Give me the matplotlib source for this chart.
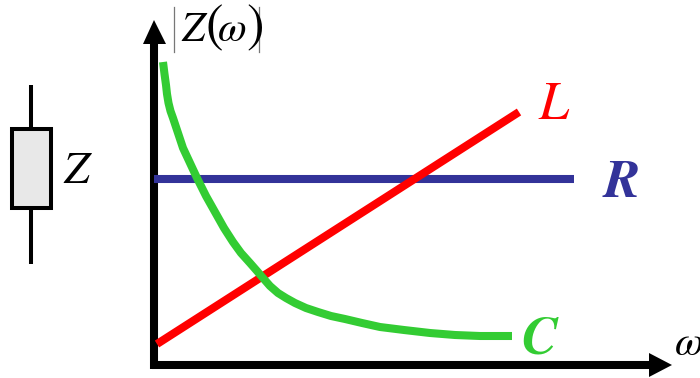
"""Impedance magnitude against frequency for R, L and C, with a Z element sketch."""

import matplotlib
matplotlib.use("Agg")
import matplotlib.pyplot as plt
from matplotlib.patches import Polygon, Rectangle

plt.rcParams["font.family"] = ["STIXGeneral", "Liberation Serif"]

# curves (x right, y down, in picture units)
c_x = [163, 164.5, 166, 167, 168.5, 170.5, 173, 178, 183, 190, 197, 206, 215, 224, 233, 241, 250, 257, 263,
       270, 278, 286, 295, 306, 318, 331, 345, 362, 380, 404, 430, 455, 480, 512]
c_y = [62, 74, 85, 94, 103, 111, 118, 133, 148, 163, 178, 196, 212, 228, 242, 253, 263, 271, 278,
       286, 293, 298, 303, 308, 312, 316, 319, 323, 327, 330, 333, 335, 336, 336]
l_x = [157, 519]
l_y = [344, 112]
r_x = [154, 574]
r_y = [179, 179]

RED = "#ff0000"
BLUE = "#333399"
GREEN = "#33cc33"
LW = 5.8

fig = plt.figure(figsize=(7.0, 3.78), dpi=100)
ax = fig.add_axes([0, 0, 1, 1])
ax.set_xlim(0, 700)
ax.set_ylim(378, 0)
ax.axis("off")

# axes with arrow heads
ax.plot([154, 154], [369, 40], color="black", lw=LW, solid_capstyle="butt", zorder=2)
ax.plot([152, 652], [365, 365], color="black", lw=LW, solid_capstyle="butt", zorder=2)
ax.add_patch(Polygon([[154, 20], [143, 44], [166, 44]], color="black", lw=0, zorder=2))
ax.add_patch(Polygon([[672, 365], [649, 353], [649, 377]], color="black", lw=0, zorder=2))

# curves
ax.plot(r_x, r_y, color=BLUE, lw=LW, solid_capstyle="butt", zorder=3)
ax.plot(l_x, l_y, color=RED, lw=LW, solid_capstyle="butt", zorder=4)
ax.plot(c_x, c_y, color=GREEN, lw=LW, solid_capstyle="butt", solid_joinstyle="round", zorder=5)

# curve labels
ax.text(554, 119, "L", color=RED, fontsize=39, style="italic", ha="center", va="baseline")
ax.text(622, 197, "R", color=BLUE, fontsize=39, style="italic", weight="bold", ha="center", va="baseline")
ax.text(539, 354, "C", color=GREEN, fontsize=39, style="italic", weight="bold", ha="center", va="baseline")

# axis labels
ax.text(675, 355, "ω", color="black", fontsize=30, style="italic", ha="left", va="baseline", clip_on=True)
ax.text(181, 41, "Z", color="black", fontsize=30, style="italic", ha="left", va="baseline")
ax.text(205, 41, "(", color="black", fontsize=38, ha="left", va="baseline")
ax.text(218, 41, "ω", color="black", fontsize=30, style="italic", ha="left", va="baseline")
ax.text(246, 41, ")", color="black", fontsize=38, ha="left", va="baseline")
ax.plot([174, 174], [7, 52], color="#777777", lw=0.9)
ax.plot([259, 259], [7, 52], color="#777777", lw=0.9)

# element sketch
ax.plot([31, 31], [85, 129], color="black", lw=2.9, solid_capstyle="butt")
ax.plot([31, 31], [208, 264], color="black", lw=2.9, solid_capstyle="butt")
ax.add_patch(Rectangle((12, 129), 39, 79, facecolor="#e8e8e8", edgecolor="black", lw=2.9))
ax.text(76, 183, "Z", color="black", fontsize=33, style="italic", ha="center", va="baseline")

fig.savefig("out.png", dpi=100)
